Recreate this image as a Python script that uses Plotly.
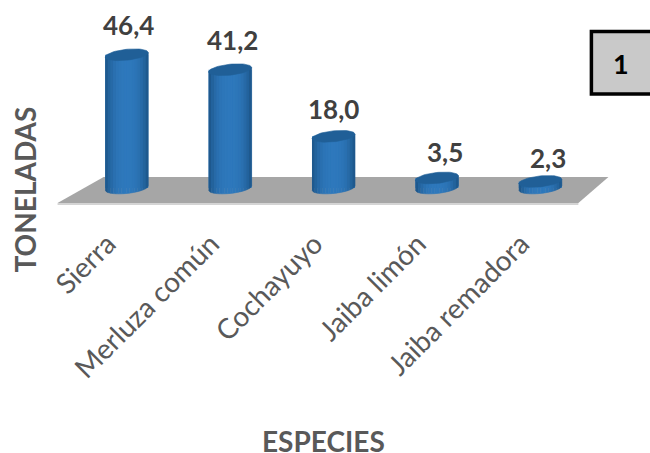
import numpy as np
import plotly.graph_objects as go

categories = ["Sierra", "Merluza común", "Cochayuyo", "Jaiba limón", "Jaiba remadora"]
values = [46.4, 41.2, 18.0, 3.5, 2.3]
value_labels = ["46,4", "41,2", "18,0", "3,5", "2,3"]
y_title = "TONELADAS"
x_title = "ESPECIES"
badge = "1"

W, H = 650, 453
L, R, T, B = 75.4, 58.4, 20, 250
PW, PH = W - L - R, H - T - B
y_min, y_max = -5.23, 58.5
HALF_W = 0.208
ELL_H = 1.9
TILT = 0.75
TEXT = "#595959"
DARK = np.array([0x1c, 0x55, 0x88])
MID = np.array([0x2e, 0x78, 0xbc])
LABEL_DX = [2, 2, 0, 8, 8]
LABEL_DY = [30, 30, 27, 26, 23]

x_pos = np.arange(len(values))


def hexc(c):
    return "#%02x%02x%02x" % tuple(int(round(v)) for v in c)


def px(x):
    return (x - L) / PW


def py(y):
    return (H - B - y) / PH


fig = go.Figure()
fig.add_trace(go.Bar(x=x_pos, y=values, width=2 * HALF_W, marker=dict(color=hexc(MID), line_width=0),
                     showlegend=False, hoverinfo="skip"))

N = 16
edges = np.linspace(-1, 1, N + 1)
for k in range(N):
    u0, u1 = edges[k], edges[k + 1]
    um = (u0 + u1) / 2
    t = min(1.0, (abs(um) / 0.98) ** 2.6)
    col = hexc(MID + (DARK - MID) * t)
    us = np.linspace(u0, u1, 5)
    xs, ys = [], []
    for xc, v in zip(x_pos, values):
        low = -ELL_H * np.sqrt(np.clip(1 - us ** 2, 0, 1)) + TILT * us
        up = v + TILT * us
        xs += list(xc + HALF_W * us) + list(xc + HALF_W * us[::-1]) + [None]
        ys += list(low) + list(up[::-1]) + [None]
    fig.add_trace(go.Scatter(x=xs, y=ys, mode="lines", fill="toself", fillcolor=col,
                             line=dict(color=col, width=0.6), showlegend=False, hoverinfo="skip"))

th = np.linspace(0, 2 * np.pi, 60)
cap_x, cap_y = [], []
for xc, v in zip(x_pos, values):
    cap_x += list(xc + HALF_W * np.cos(th)) + [None]
    cap_y += list(v + ELL_H * np.sin(th) + TILT * np.cos(th)) + [None]
fig.add_trace(go.Scatter(x=cap_x, y=cap_y, mode="lines", fill="toself", fillcolor="#205f97",
                         line=dict(color="#205f97", width=0.6), showlegend=False, hoverinfo="skip"))

floor = [(58, 203), (578, 203), (608, 177), (104, 177)]
floor_path = "M " + " L ".join(f"{px(a):.4f} {py(b):.4f}" for a, b in floor) + " Z"
shapes = [
    dict(type="line", xref="paper", yref="paper", layer="below",
         x0=px(58), x1=px(578), y0=py(204), y1=py(204), line=dict(color="#d4d4d4", width=2)),
    dict(type="path", xref="paper", yref="paper", layer="below", path=floor_path,
         fillcolor="#a6a6a6", line=dict(width=0)),
    dict(type="rect", xref="paper", yref="paper", layer="above",
         x0=px(591), x1=px(670), y0=py(94), y1=py(31.5),
         fillcolor="#c9c9c9", line=dict(color="#000000", width=3.5)),
]

annotations = []
for xc, v, lab, dx, dy in zip(x_pos, values, value_labels, LABEL_DX, LABEL_DY):
    annotations.append(dict(x=xc, y=v, text=f"<b>{lab}</b>", showarrow=False, xshift=dx, yshift=dy,
                            xanchor="center", yanchor="middle",
                            font=dict(family="Lato", size=26, color="#404040")))
annotations += [
    dict(xref="paper", yref="paper", x=px(324), y=py(441), text=f"<b>{x_title}</b>",
         showarrow=False, xanchor="center", yanchor="middle",
         font=dict(family="Lato", size=28, color=TEXT)),
    dict(xref="paper", yref="paper", x=px(25), y=py(190), text=f"<b>{y_title}</b>",
         showarrow=False, textangle=-90, xanchor="center", yanchor="middle",
         font=dict(family="Lato", size=28, color=TEXT)),
    dict(xref="paper", yref="paper", x=px(621), y=py(63), text=f"<b>{badge}</b>",
         showarrow=False, xanchor="center", yanchor="middle",
         font=dict(family="Lato", size=27, color="#000000")),
]

fig.update_layout(
    width=W, height=H, autosize=False,
    margin=dict(l=L, r=R, t=T, b=B, pad=0),
    paper_bgcolor="#ffffff", plot_bgcolor="rgba(0,0,0,0)",
    barmode="overlay", showlegend=False,
    shapes=shapes, annotations=annotations,
    xaxis=dict(range=[-0.5, 4.5], tickmode="array", tickvals=list(x_pos), ticktext=categories,
               tickangle=-45, ticks="", showgrid=False, zeroline=False, showline=False,
               ticklabelstandoff=18, ticklabelshift=-19,
               tickfont=dict(family="Lato", size=28, color=TEXT)),
    yaxis=dict(range=[y_min, y_max], visible=False),
)
fig.write_html("out.html", config=dict(displayModeBar=False),
               post_script="document.body.style.margin='0';document.body.style.overflow='hidden';")
